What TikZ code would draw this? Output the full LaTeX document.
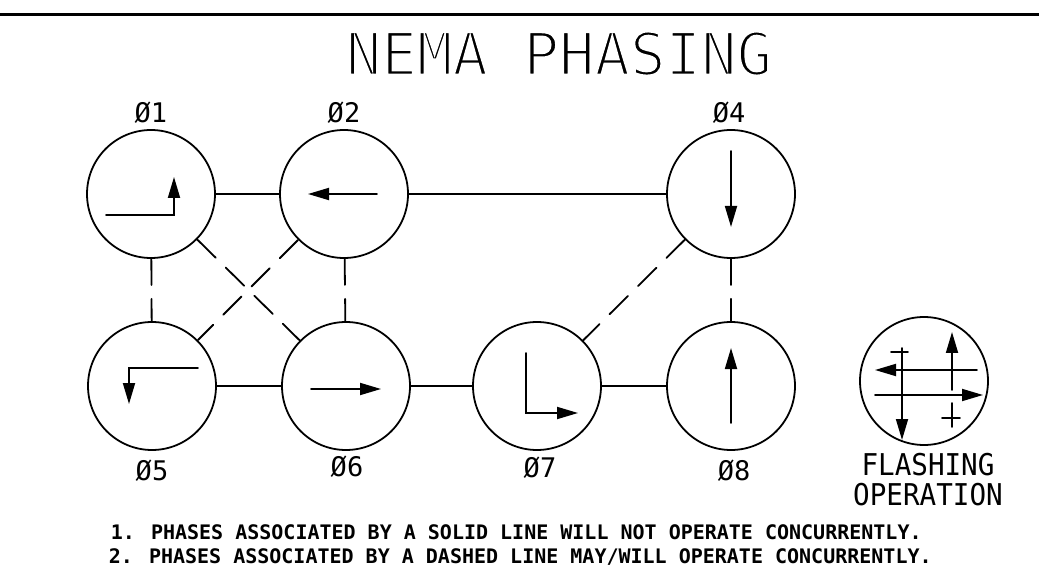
\documentclass[tikz,border=0pt]{standalone}
\usepackage{fontspec}
\usepackage{tikz}
\usetikzlibrary{arrows.meta}
\newfontfamily\cadfont{DejaVu Sans Mono}
% thin pen lettering for the title: white outline eats into the glyphs
\newcommand\thinpen[1]{\special{pdf:code q 2 Tr 1 G 1.25 w}#1\special{pdf:code Q}}

\begin{document}
\begin{tikzpicture}[x=0.5pt,y=-0.5pt,>={Triangle[length=10.5pt,width=6pt]},line cap=round,line width=0.9pt,
  phase/.style={draw,circle,minimum size=64pt,inner sep=0pt},
  phasenum/.style={font=\cadfont\fontsize{13.5}{13.5}\selectfont,inner sep=0pt,anchor=base},
  notconc/.style={line width=0.9pt},
  conc/.style={line width=0.9pt,dash pattern=on 13pt off 7pt}]
\useasboundingbox (0,0) rectangle (1039,572);
\draw[line width=1.5pt] (0,15) -- (1039,15);
\node[font=\cadfont\fontsize{29.5}{29.5}\selectfont,inner sep=0pt,anchor=base] (title) at (559,75) {\thinpen{NEMA PHASING}};
% phase circles
\node[phase] (p1) at (151,194) {};
\node[phase] (p2) at (344,194) {};
\node[phase] (p4) at (731,194) {};
\node[phase] (p5) at (152,386) {};
\node[phase] (p6) at (346,386) {};
\node[phase] (p7) at (537,386) {};
\node[phase] (p8) at (731,386) {};
\node[phase] (flash) at (924,381) {};
\node[phasenum] (n1) at (151,123) {Ø1};
\node[phasenum] (n2) at (344,123) {Ø2};
\node[phasenum] (n4) at (729,123) {Ø4};
\node[phasenum] (n5) at (152,480) {Ø5};
\node[phasenum] (n6) at (347,476) {Ø6};
\node[phasenum] (n7) at (540,477) {Ø7};
\node[phasenum] (n8) at (734,480) {Ø8};
\node[font=\cadfont\fontsize{15}{15}\selectfont,inner sep=0pt,anchor=base,xscale=0.92] (fl) at (928,475) {FLASHING};
\node[font=\cadfont\fontsize{15}{15}\selectfont,inner sep=0pt,anchor=base,xscale=0.92] (op) at (928,505) {OPERATION};
% links
\draw[notconc] (p1) -- (p2);
\draw[notconc] (p2) -- (p4);
\draw[notconc] (p5) -- (p6);
\draw[notconc] (p6) -- (p7);
\draw[notconc] (p7) -- (p8);
\draw[conc] (p1) -- (p5);
\draw[conc] (p2) -- (p6);
\draw[conc] (p1) -- (p6);
\draw[conc] (p2) -- (p5);
\draw[conc] (p4) -- (p7);
\draw[conc] (p4) -- (p8);
% movements
\draw[->] (106,215) -- (174,215) -- (174,177);
\draw[->] (377,194) -- (308,194);
\draw[->] (731,151) -- (731,227);
\draw[->] (198,368) -- (129,368) -- (129,404);
\draw[->] (311,389) -- (381,389);
\draw[->] (526,353) -- (526,413) -- (578,413);
\draw[->] (731,423) -- (731,348);
% flashing
\draw[->] (977,370) -- (875,370);
\draw[->] (875,395) -- (983,395);
\draw[->] (902,348) -- (902,440);
\draw (891,352) -- (908,352);
\draw[->] (952,390) -- (952,332);
\draw (952,403) -- (952,427) (942,418) -- (960,418);
% notes
\node[font=\cadfont\bfseries\fontsize{10}{10}\selectfont,inner sep=0pt,anchor=base west] (note1) at (110,539) {1. PHASES ASSOCIATED BY A SOLID LINE WILL NOT OPERATE CONCURRENTLY.};
\node[font=\cadfont\bfseries\fontsize{10}{10}\selectfont,inner sep=0pt,anchor=base west] (note2) at (108,563) {2. PHASES ASSOCIATED BY A DASHED LINE MAY/WILL OPERATE CONCURRENTLY.};
\end{tikzpicture}
\end{document}
